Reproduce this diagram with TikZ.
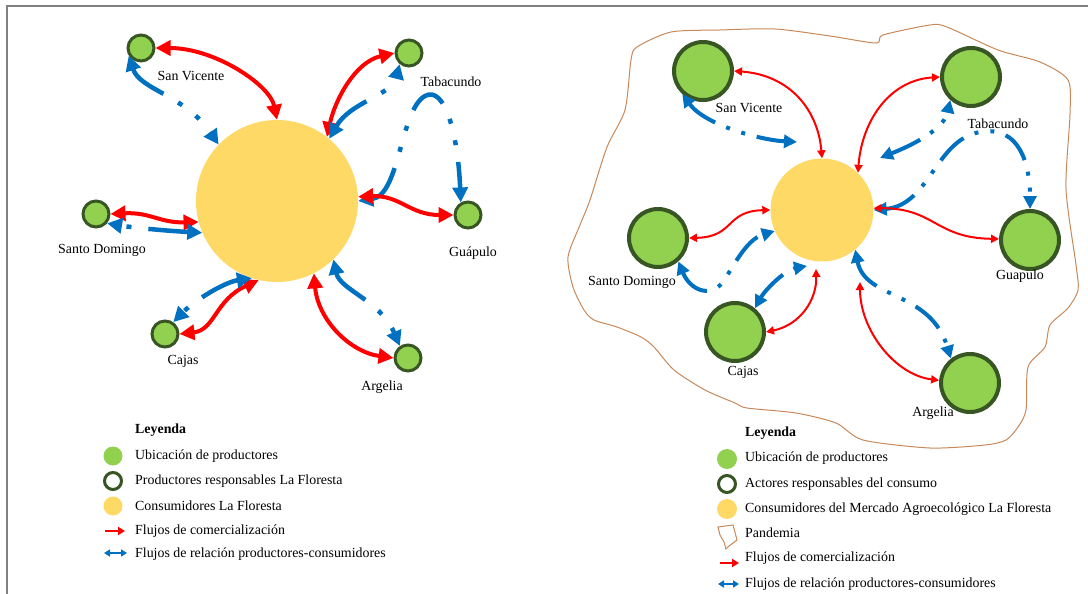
\documentclass[tikz,border=0pt]{standalone}
\usepackage{fontspec}
\setmainfont{Liberation Serif}
\usetikzlibrary{arrows.meta}
\definecolor{gfill}{HTML}{92D050}
\definecolor{gdraw}{HTML}{375623}
\definecolor{yel}{HTML}{FFD966}
\definecolor{rd}{HTML}{FF0000}
\definecolor{bl}{HTML}{0070C0}
\definecolor{brn}{HTML}{C8895A}
\definecolor{frm}{HTML}{808080}
\begin{document}
\begin{tikzpicture}[x=1pt,y=-1pt,
  font=\fontsize{13.9}{16}\selectfont,
  prodS/.style={circle,fill=gfill,draw=gdraw,line width=3pt,minimum size=26pt,inner sep=0pt},
  prodL/.style={circle,fill=gfill,draw=gdraw,line width=4pt,minimum size=58pt,inner sep=0pt},
  cons/.style={circle,fill=yel,inner sep=0pt},
  lbl/.style={inner sep=0pt,anchor=center},
  leg/.style={anchor=west,inner sep=0pt},
  redL/.style={draw=rd,line width=4pt,{Triangle[length=15pt,width=15pt]}-{Triangle[length=15pt,width=15pt]}},
  bluL/.style={draw=bl,line width=4.5pt,dash pattern=on 40pt off 17pt on 5pt off 17pt on 5pt off 17pt,{Triangle[length=15pt,width=15pt]}-{Triangle[length=15pt,width=15pt]}},
  redR/.style={draw=rd,line width=2pt,{Triangle[length=8pt,width=8pt]}-{Triangle[length=8pt,width=8pt]}},
  bluR/.style={draw=bl,line width=4pt,dash pattern=on 32pt off 12pt on 4pt off 12pt on 4pt off 12pt,{Triangle[length=13pt,width=13pt]}-{Triangle[length=13pt,width=13pt]}},
  pand/.style={draw=brn,line width=1pt},
]
\useasboundingbox[fill=white] (0,0) rectangle (1088,594);
% frame
\coordinate (f1) at (7,594);
\coordinate (f2) at (7,6);
\coordinate (f3) at (1088,6);
\draw[frm,line width=1.5pt] (f1) -- (f2) -- (f3);

% ---------------- left diagram ----------------
\node[cons,minimum size=162pt] (c1) at (277,201) {};
\node[prodS] (sv) at (141,48) {};
\node[prodS] (tab) at (409,53) {};
\node[prodS] (sd) at (96,214) {};
\node[prodS] (gu) at (468,215) {};
\node[prodS] (ca) at (165,334) {};
\node[prodS] (ar) at (408,358) {};

\draw[redL] (sv.east) .. controls (215,48) and (270,85) .. (c1.north);
\draw[bluL] (sv.212) .. controls (140,90) and (185,95) .. (c1.136);
\draw[redL] (c1.52) .. controls (335,100) and (355,62) .. (tab.west);
\draw[bluL] (c1.50) .. controls (350,102) and (392,95) .. (tab.230);
\draw[bluL] (c1.east) .. controls (400,195) and (400,110) .. (425,96) .. controls (445,85) and (458,135) .. (gu.120);
\draw[redL] (sd.east) .. controls (150,212) and (160,223) .. (c1.195);
\draw[bluL] (c1.203) .. controls (170,231) and (135,228) .. (sd.-40);
\draw[redL] (c1.3) .. controls (400,195) and (410,215) .. (gu.west);
\draw[redL] (ca.east) .. controls (215,330) and (215,300) .. (c1.257);
\draw[bluL] (c1.252) .. controls (225,282) and (195,300) .. (ca.55);
\draw[redL] (c1.-63) .. controls (318,320) and (350,352) .. (ar.west);
\draw[bluL] (c1.-46) .. controls (340,290) and (380,300) .. (ar.124);

\node[lbl] (lsv) at (191,76) {San Vicente};
\node[lbl] (ltab) at (451,82) {Tabacundo};
\node[lbl] (lsd) at (102,250) {Santo Domingo};
\node[lbl] (lgu) at (473,253) {Guápulo};
\node[lbl] (lca) at (183,361) {Cajas};
\node[lbl] (lar) at (382,387) {Argelia};

% left legend
\node[leg] (ley1) at (135,430) {\bfseries Leyenda};
\node[circle,fill=gfill,minimum size=19pt,inner sep=0pt] (k1a) at (113,456) {};
\node[leg] (k1b) at (135,456) {Ubicación de productores};
\node[circle,draw=gdraw,fill=white,line width=3pt,minimum size=17pt,inner sep=0pt] (k2a) at (113,481) {};
\node[leg] (k2b) at (135,481) {Productores responsables La Floresta};
\node[circle,fill=yel,minimum size=19pt,inner sep=0pt] (k3a) at (113,506) {};
\node[leg] (k3b) at (135,506) {Consumidores La Floresta};
\coordinate (k4s) at (105,531);
\coordinate (k4e) at (125,531);
\draw[rd,line width=2pt,-{Triangle[length=7pt,width=8pt]}] (k4s) -- (k4e);
\node[leg] (k4b) at (135,531) {Flujos de comercialización};
\coordinate (k5s) at (104,553);
\coordinate (k5e) at (127,553);
\draw[bl,line width=2pt,{Triangle[length=6pt,width=7pt]}-{Triangle[length=6pt,width=7pt]}] (k5s) -- (k5e);
\node[leg] (k5b) at (135,554) {Flujos de relación productores-consumidores};

% ---------------- right diagram ----------------
\draw[pand] plot[smooth cycle,tension=0.45] coordinates {
 (637,47) (671,32) (720,30) (775,29) (830,36) (876,43) (883,35) (930,25) (947,27)
 (998,50) (1040,62) (1068,80) (1070,114) (1066,189) (1076,265) (1078,290) (1068,308)
 (1050,325) (1045,347) (1028,367) (1026,410) (1018,427) (1006,440) (985,445) (930,448)
 (863,440) (836,423) (796,413) (747,408) (735,403) (705,390) (674,370) (654,347)
 (641,337) (617,327) (594,320) (584,310) (573,287) (568,257) (580,225) (590,200)
 (607,147) (625,110) (631,60)};

\node[cons,minimum size=103pt] (c2) at (822,210) {};
\node[prodL] (sv2) at (703,71) {};
\node[prodL] (tab2) at (971,77) {};
\node[prodL] (sd2) at (658,238) {};
\node[prodL] (gu2) at (1030,240) {};
\node[prodL] (ca2) at (735,332) {};
\node[prodL] (ar2) at (970,383) {};
\coordinate (sv2e) at (797,142);
\coordinate (tab2e) at (880,158);
\coordinate (ca2e) at (807,266);
\coordinate (ca2r) at (816,269);
\coordinate (ar2r) at (860,282);

\draw[redR] (sv2.east) .. controls (790,75) and (818,110) .. (c2.north);
\draw[bluR] (sv2.228) .. controls (705,125) and (760,140) .. (sv2e);
\draw[redR] (c2.46) .. controls (862,120) and (890,80) .. (tab2.west);
\draw[bluR] (tab2e) .. controls (925,140) and (945,125) .. (tab2.228);
\draw[bluR] (c2.east) .. controls (930,205) and (935,140) .. (980,132) .. controls (1020,125) and (1030,165) .. (gu2.north);
\draw[redR] (c2.2) .. controls (935,208) and (935,238) .. (gu2.178);
\draw[redR] (sd2.east) .. controls (735,237) and (725,211) .. (c2.west);
\draw[bluR] (sd2.-49) .. controls (690,290) and (710,298) .. (722,283) .. controls (732,270) and (745,240) .. (c2.204);
\draw[bluR] (ca2.50) .. controls (765,290) and (785,270) .. (ca2e);
\draw[redR] (ca2.east) .. controls (800,325) and (817,300) .. (ca2r);
\draw[bluR] (c2.-50) .. controls (865,300) and (930,290) .. (ar2.128);
\draw[redR] (ar2r) .. controls (860,330) and (895,375) .. (ar2.175);

\node[lbl] (rsv) at (749,108) {San Vicente};
\node[lbl] (rtab) at (998,124) {Tabacundo};
\node[lbl] (rsd) at (632,282) {Santo Domingo};
\node[lbl] (rgu) at (1020,276) {Guapulo};
\node[lbl] (rca) at (743,372) {Cajas};
\node[lbl] (rar) at (933,413) {Argelia};

% right legend
\node[leg] (ley2) at (745,433) {\bfseries Leyenda};
\node[circle,fill=gfill,minimum size=20pt,inner sep=0pt] (m1a) at (727,459) {};
\node[leg] (m1b) at (745,458) {Ubicación de productores};
\node[circle,draw=gdraw,fill=white,line width=3pt,minimum size=17pt,inner sep=0pt] (m2a) at (727,484) {};
\node[leg] (m2b) at (745,484) {Actores responsables del consumo};
\node[circle,fill=yel,minimum size=20pt,inner sep=0pt] (m3a) at (727,509) {};
\node[leg] (m3b) at (745,509) {Consumidores del Mercado Agroecológico La Floresta};
\draw[pand] (718,527) -- (733,525) -- (737,540) -- (729,546) -- (726,549) -- (724,542) -- (720,535) -- cycle;
\node[leg] (m4b) at (745,533) {Pandemia};
\coordinate (m5s) at (720,563);
\coordinate (m5e) at (739,563);
\draw[rd,line width=2pt,-{Triangle[length=7pt,width=8pt]}] (m5s) -- (m5e);
\node[leg] (m5b) at (745,558) {Flujos de comercialización};
\coordinate (m6s) at (718,584);
\coordinate (m6e) at (739,584);
\draw[bl,line width=2pt,{Triangle[length=6pt,width=7pt]}-{Triangle[length=6pt,width=7pt]}] (m6s) -- (m6e);
\node[leg] (m6b) at (745,584) {Flujos de relación productores-consumidores};
\end{tikzpicture}
\end{document}
